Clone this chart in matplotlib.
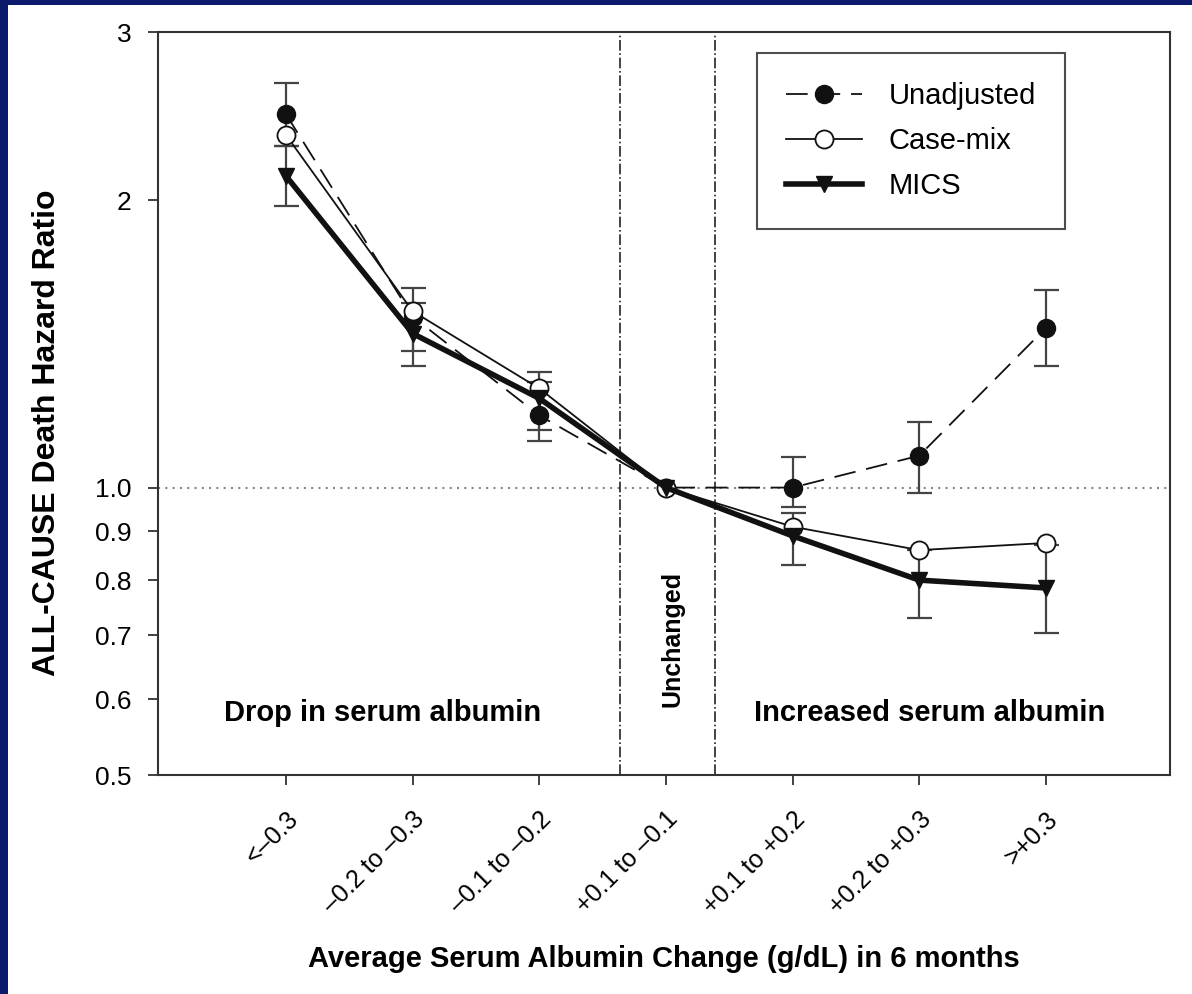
import numpy as np
from matplotlib import pyplot as plt
from matplotlib.patches import Rectangle

plt.rcParams['font.family'] = ['Liberation Sans', 'DejaVu Sans']

# categories on the x axis
categories = ['<\u20130.3', '\u20130.2 to \u20130.3', '\u20130.1 to \u20130.2', '+0.1 to \u20130.1',
              '+0.1 to +0.2', '+0.2 to +0.3', '>+0.3']

# hazard ratios
unadj = [2.46, 1.51, 1.19, 1.0, 1.0, 1.08, 1.47]
unadj_lo = [2.28, np.nan, 1.12, np.nan, 0.955, 0.987, 1.34]
unadj_hi = [2.65, np.nan, 1.29, np.nan, 1.077, 1.17, 1.61]

casemix = [2.34, 1.53, 1.27, 1.0, 0.91, 0.86, 0.875]
casemix_lo = [np.nan, 1.39, 1.15, np.nan, np.nan, np.nan, np.nan]
casemix_hi = [np.nan, 1.62, 1.32, np.nan, np.nan, np.nan, np.nan]

mics = [2.12, 1.45, 1.24, 1.0, 0.89, 0.80, 0.785]
mics_lo = [1.97, 1.34, np.nan, np.nan, 0.83, 0.73, 0.705]
mics_hi = [2.28, 1.56, np.nan, np.nan, 0.94, 0.86, 0.87]

yticks = [0.5, 0.6, 0.7, 0.8, 0.9, 1.0, 2, 3]
ytick_labels = ['0.5', '0.6', '0.7', '0.8', '0.9', '1.0', '2', '3']

fig = plt.figure(figsize=(11.92, 9.94), dpi=100, facecolor='#0b1a6b')
fig.patches.append(Rectangle((8 / 1192, 0), 1, 1 - 5 / 994, transform=fig.transFigure,
                             facecolor='white', edgecolor='none', zorder=-5))
ax = fig.add_axes([0.1326, 0.2203, 0.849, 0.7475])

x = np.arange(len(categories))


def draw_err(vals, lo, hi):
    vals = np.array(vals)
    err = np.array([vals - np.array(lo), np.array(hi) - vals])
    ax.errorbar(x, vals, yerr=err, fmt='none', ecolor='#444444', elinewidth=1.6,
                capsize=9, capthick=1.6, zorder=2)


draw_err(unadj, unadj_lo, unadj_hi)
draw_err(casemix, casemix_lo, casemix_hi)
draw_err(mics, mics_lo, mics_hi)

# reference lines
ax.axhline(1.0, color='#888888', lw=1.5, ls=(0, (1, 2.5)), zorder=1)
ax.axvline(2.64, color='#222222', lw=1.2, ls='-.', zorder=1)
ax.axvline(3.39, color='#222222', lw=1.2, ls='-.', zorder=1)

ax.plot(x, unadj, color='#111111', lw=1.3, dashes=(12, 6), marker='o', ms=13,
        mfc='#111111', mec='#111111', zorder=4, label='Unadjusted')
ax.plot(x, casemix, color='#111111', lw=1.3, marker='o', ms=13,
        mfc='white', mec='#111111', mew=1.3, zorder=4, label='Case-mix')
ax.plot(x, mics, color='#111111', lw=4, marker='v', ms=12,
        mfc='#111111', mec='#111111', zorder=5, label='MICS')

ax.set_yscale('log')
ax.set_ylim(0.5, 3)
ax.set_xlim(-1.01, 6.98)
ax.set_yticks(yticks)
ax.set_yticklabels(ytick_labels, fontsize=19)
ax.minorticks_off()
ax.set_xticks(x)
ax.set_xticklabels(categories, rotation=45, ha='right', rotation_mode='anchor', fontsize=18)
ax.tick_params(axis='both', length=7, width=1.3, color='#333333')
ax.tick_params(axis='x', pad=16)
ax.tick_params(axis='y', pad=12)
for s in ax.spines.values():
    s.set_linewidth(1.5)
    s.set_color('#333333')

ax.text(0.76, 0.58, 'Drop in serum albumin', fontsize=21, fontweight='bold',
        ha='center', va='center')
ax.text(5.08, 0.58, 'Increased serum albumin', fontsize=21, fontweight='bold',
        ha='center', va='center')
ax.text(3.05, 0.694, 'Unchanged', fontsize=18, fontweight='bold', rotation=90,
        ha='center', va='center')

ax.set_ylabel('ALL-CAUSE Death Hazard Ratio', fontsize=23, fontweight='bold')
ax.yaxis.set_label_coords(-0.095, 0.46)
ax.set_xlabel('Average Serum Albumin Change (g/dL) in 6 months', fontsize=21,
              fontweight='bold', labelpad=19)

leg = ax.legend(loc='upper right', bbox_to_anchor=(0.896, 0.972), fontsize=21,
                frameon=True, fancybox=False, edgecolor='#222222', handlelength=2.6,
                borderpad=1.0, labelspacing=0.58, handletextpad=0.9, borderaxespad=0)
leg.get_frame().set_linewidth(1.5)

fig.savefig('out.png', dpi=100, facecolor=fig.get_facecolor())
